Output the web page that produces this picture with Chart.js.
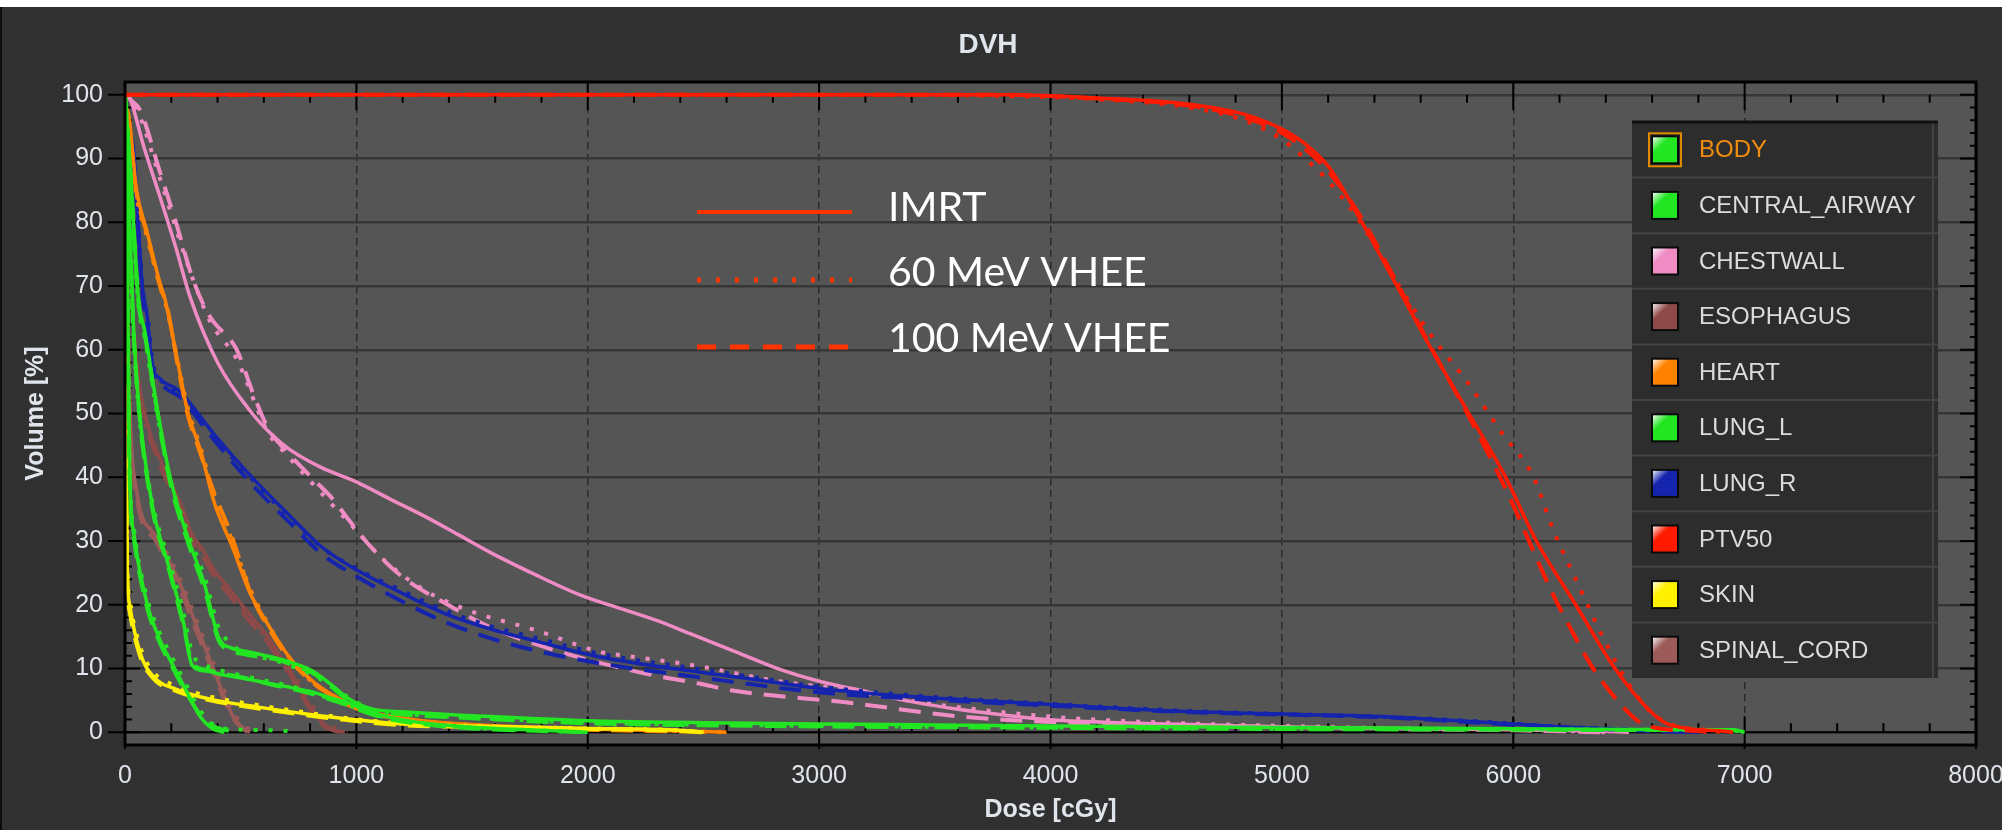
<!DOCTYPE html>
<html>
<head>
<meta charset="utf-8">
<title>DVH</title>
<script src="https://cdn.jsdelivr.net/npm/chart.js@4.4.0/dist/chart.umd.min.js"></script>
<style>
  html, body { margin: 0; padding: 0; background: #fff; }
  canvas { display: block; }
</style>
</head>
<body>
<canvas id="dvhChart" width="2002" height="830"></canvas>
<script>
// Estruturas (legenda) e técnicas
const structures = ['BODY', 'CENTRAL_AIRWAY', 'CHESTWALL', 'ESOPHAGUS', 'HEART', 'LUNG_L', 'LUNG_R', 'PTV50', 'SKIN', 'SPINAL_CORD'];
const methods = ['IMRT', '60 MeV VHEE', '100 MeV VHEE'];
const xTicks = [0, 1000, 2000, 3000, 4000, 5000, 6000, 7000, 8000];
const yTicks = [0, 10, 20, 30, 40, 50, 60, 70, 80, 90, 100];

// Curvas DVH: [dose cGy, volume %]
const ptv50_imrt = [[0,100],[1000,100],[2000,100],[3000,100],[3800,100],[4200,99.5],[4600,98.5],[4850,96.8],[5000,94.6],[5100,92.3],[5200,88.8],[5330,81],[5490,70.5],[5640,60.5],[5800,50.5],[5960,40.5],[6100,30],[6270,20],[6430,10.5],[6560,4.5],[6650,1.6],[6750,0.6],[6900,0.2],[6950,0]];
const ptv50_60 = [[0,100],[1000,100],[2000,100],[3000,100],[3800,99.8],[4200,99.3],[4600,98],[4850,95.8],[5000,93],[5100,90],[5200,86.5],[5330,80.5],[5490,71],[5650,62],[5800,55],[5950,47],[6088,40],[6170,32],[6283,23],[6400,14],[6500,7.5],[6600,3],[6700,1],[6850,0.3],[6900,0]];
const ptv50_100 = [[0,100],[1000,100],[2000,100],[3000,100],[3800,100],[4200,99.4],[4600,98.3],[4850,96.3],[5000,94],[5100,91.5],[5200,88],[5330,81.5],[5490,71],[5650,60],[5816,49],[5989,36.5],[6080,29],[6167,22],[6243,16.6],[6340,10.3],[6474,4],[6550,1.5],[6650,0.5],[6800,0.2],[6850,0]];

const chestwall_imrt = [[0,100],[20,99.5],[80,92],[151,84],[220,76],[281,68.3],[400,58],[541,50.4],[640,46.5],[714,44.3],[850,41.5],[1004,39.2],[1150,36.5],[1294,33.9],[1440,31],[1584,28.1],[1780,24.6],[1969,21.5],[2150,19.3],[2300,17.5],[2440,15.5],[2640,12.6],[2827,9.9],[3000,8],[3213,6.3],[3400,4.8],[3600,3.6],[3800,2.7],[3983,2],[4300,1.5],[4562,1.25],[5081,0.8],[5500,0.6],[6000,0.4],[6300,0.2],[6500,0]];
const chestwall_60 = [[0,100],[25,99],[60,97],[150,87],[220,79],[294,71],[367,64.5],[483,58.5],[618,47],[700,43.5],[811,39],[965,33],[1120,27],[1294,22.3],[1486,19.1],[1776,16],[2054,12.6],[2162,12],[2440,10.6],[2827,8],[3114,6.7],[3400,4.9],[3983,2.5],[4500,1.5],[5000,1],[5500,0.6],[6000,0.4],[6400,0]];
const chestwall_100 = [[0,100],[30,99],[65,97.6],[150,88],[220,80],[294,71],[367,65.2],[483,60],[550,53.5],[618,47.7],[700,44],[811,39.8],[900,36.5],[965,33.4],[1062,29.1],[1198,24.4],[1390,20.1],[1584,16.4],[1872,12.7],[2249,9.2],[2486,7.6],[2633,6.5],[3114,4.7],[3600,2.5],[4000,1.6],[4500,1.1],[5000,0.8],[5500,0.5],[6000,0.3],[6400,0]];

const lungR_imrt = [[0,97],[15,94],[35,92],[73,70.5],[96,65.2],[115,58],[150,55.5],[232,53.6],[386,46.7],[541,40.3],[714,33.9],[849,29.1],[1004,25.4],[1198,21.8],[1390,18.5],[1580,16.2],[1776,14.3],[2054,11.8],[2486,9.4],[2633,8.7],[3018,6.8],[3400,5.6],[3983,4.4],[4562,3.3],[5081,2.8],[5470,2.4],[5855,1.6],[6243,0.8],[6600,0.3],[6800,0]];
const lungR_60 = [[0,97],[20,93],[40,89],[75,70],[100,64.5],[120,58],[160,55],[240,53],[386,46.3],[541,40],[714,33.5],[849,29],[1004,25.6],[1198,22.2],[1390,19],[1584,16.6],[1776,14.8],[2054,12.3],[2486,9.9],[3018,7.1],[3400,5.8],[3983,4.5],[4562,3.4],[5081,2.8],[5470,2.4],[5855,1.7],[6243,0.8],[6600,0.3],[6800,0]];
const lungR_100 = [[0,96],[20,92],[40,88],[75,69],[100,63],[120,57],[160,54.5],[240,52.5],[386,45.8],[541,39.2],[714,32.8],[849,28],[1004,24.4],[1198,20.5],[1390,17.2],[1584,14.7],[1776,12.8],[2054,10.8],[2486,8.6],[3018,6.2],[3400,5.3],[3983,4.2],[4562,3.2],[5081,2.7],[5470,2.3],[5855,1.5],[6243,0.7],[6600,0.2],[6750,0]];

const heart_imrt = [[0,98],[14,97.2],[50,85],[93,78.8],[151,70.5],[173,67.9],[232,57.3],[270,50.4],[328,44],[386,36],[464,29.1],[541,21.8],[618,16.9],[714,11.6],[811,8],[900,5.8],[965,4.5],[1042,3.4],[1200,2.2],[1500,1.2],[2000,0.5],[2400,0.2],[2600,0]];
const heart_60 = [[0,97],[14,96],[50,84],[93,78],[151,70],[180,66.5],[232,57.5],[270,51],[328,44.5],[386,37],[464,30],[541,22.5],[618,17],[714,11.5],[811,7.8],[900,5.6],[965,4.4],[1042,3.3],[1200,2.1],[1500,1.1],[2000,0.5],[2400,0.2],[2600,0]];
const heart_100 = [[0,97.5],[14,96.5],[50,84.5],[93,78.5],[151,70],[180,67],[232,56.8],[270,50],[328,43.5],[386,37.5],[464,30.5],[541,22],[618,16.5],[714,11.3],[811,7.8],[900,5.6],[965,4.3],[1042,3.2],[1200,2],[1500,1],[2000,0.4],[2400,0.1],[2500,0]];

const body_imrt = [[0,100],[20,90],[58,68],[85,63],[134,52],[193,40.3],[270,30.7],[347,22.8],[404,14.9],[460,13.2],[521,12.7],[656,11.6],[730,10.8],[811,9.6],[890,7.5],[965,5.3],[1062,3.7],[1200,3.2],[1500,2.6],[2000,1.8],[2500,1.5],[3000,1.3],[3500,1.15],[4000,1],[4500,0.85],[5000,0.75],[5500,0.65],[6000,0.55],[6500,0.45],[6950,0.4],[7000,0]];
const body_60 = [[0,100],[20,89],[58,67],[85,62],[134,51],[193,40],[270,31.5],[347,24],[404,16.5],[460,13.8],[521,12.4],[656,11.2],[730,10.2],[811,9],[890,7.3],[965,5.5],[1062,3.6],[1200,2.9],[1500,2.3],[2000,1.5],[2500,1.2],[3000,1],[3500,0.85],[4000,0.75],[4500,0.65],[5000,0.55],[5500,0.5],[6000,0.45],[6500,0.4],[6950,0.3],[7000,0]];
const body_100 = [[0,100],[20,90],[58,67.5],[85,62.5],[134,51.5],[193,39.5],[270,30],[347,22],[404,14.5],[460,12.8],[521,12.2],[656,11.4],[730,10.5],[811,9.3],[890,7.2],[965,5],[1062,3.4],[1200,2.8],[1500,2.2],[2000,1.4],[2500,1.1],[3000,0.9],[3500,0.8],[4000,0.7],[4500,0.6],[5000,0.5],[5500,0.45],[6000,0.4],[6500,0.35],[6950,0.3],[7000,0]];

const airway_imrt = [[0,100],[15,85],[35,65],[58,52],[116,36],[194,25.4],[251,17.5],[290,10.5],[350,9.6],[424,9],[520,8.4],[618,7.7],[720,7],[811,6.3],[890,5.4],[965,4.6],[1050,3.3],[1150,2.3],[1300,1.4],[1500,0.8],[1800,0.3],[2000,0]];
const airway_60 = [[0,100],[15,84],[35,64],[58,51],[116,36.5],[194,26.5],[251,19],[290,12.5],[350,10.5],[424,9.6],[520,8.8],[618,8],[720,7.2],[811,6.2],[890,5.2],[965,4.3],[1050,3.1],[1150,2.1],[1300,1.3],[1500,0.7],[1800,0.25],[2000,0]];
const airway_100 = [[0,100],[15,85],[35,64.5],[58,51.5],[116,35.5],[194,25],[251,17],[290,11],[350,9.8],[424,9.2],[520,8.5],[618,7.6],[720,6.8],[811,6],[890,5.1],[965,4.2],[1050,3],[1150,2],[1300,1.2],[1500,0.6],[1800,0.2],[2000,0]];

const lungL_imrt = [[0,100],[8,80],[20,41],[40,30.7],[96,20.1],[151,14.5],[200,11],[268,6.3],[324,2.5],[381,0.5],[430,0]];
const lungL_60 = [[0,100],[8,79],[20,42],[40,31.5],[96,21],[151,15.5],[200,12],[268,7.2],[324,3.5],[381,1.2],[450,0.5],[700,0.2],[720,0]];
const lungL_100 = [[0,100],[8,80],[20,40],[40,30],[96,19.5],[151,14],[200,10.5],[268,6],[324,2.8],[381,1],[440,0.3],[500,0]];

const esophagus_imrt = [[0,100],[10,88],[25,72],[50,58],[100,48],[150,43],[200,39],[250,35],[290,31],[330,29],[386,25.4],[440,23],[503,20.1],[560,17.5],[618,14.9],[670,12],[714,9.6],[760,6.5],[800,4],[849,1.6],[900,0.4],[950,0]];
const esophagus_60 = [[0,100],[10,87],[25,71],[50,57],[100,47],[150,42.5],[200,38.5],[250,34],[290,30.5],[330,28.5],[386,25],[440,22.5],[503,19.5],[560,17],[618,14.5],[670,12],[714,10],[760,7.2],[800,4.8],[849,2.2],[900,0.8],[960,0]];
const esophagus_100 = [[0,100],[10,88],[25,71.5],[50,57.5],[100,47.5],[150,42],[200,38],[250,34.5],[290,30],[330,28],[386,24.5],[440,22],[503,19],[560,16.5],[618,14],[670,11.2],[714,9],[760,6],[800,3.6],[849,1.3],[900,0.3],[940,0]];

const cord_imrt = [[0,100],[8,75],[20,52],[50,38],[134,30.7],[232,23.8],[307,16.9],[386,9.6],[430,5.5],[464,2.7],[500,1],[540,0]];
const cord_60 = [[0,100],[8,74],[20,51],[50,37.5],[134,31],[232,24.5],[307,17.8],[386,10.5],[430,6.5],[464,3.5],[500,1.5],[560,0]];
const cord_100 = [[0,100],[8,75],[20,51.5],[50,37],[134,30],[232,23],[307,16],[386,9],[430,5],[464,2.4],[500,0.8],[530,0]];

const skin_imrt = [[0,100],[3,70],[6,40],[10,25],[20,20],[65,12.5],[121,8.8],[225,6.7],[368,5.2],[584,3.9],[800,2.8],[986,2],[1200,1.3],[1600,0.9],[2000,0.6],[2400,0.3],[2500,0]];
const skin_60 = [[0,100],[3,68],[6,38],[10,26],[20,21],[65,13.5],[121,9.5],[225,7.2],[368,5.6],[584,4.2],[800,3],[986,2.1],[1200,1.4],[1600,0.9],[2000,0.6],[2400,0.3],[2500,0]];
const skin_100 = [[0,100],[3,69],[6,39],[10,24],[20,19],[65,12],[121,8.5],[225,6.4],[368,5],[584,3.7],[800,2.6],[986,1.8],[1200,1.1],[1600,0.8],[2000,0.5],[2400,0.2],[2500,0]];

// ordem de desenho: o primeiro fica por cima
const curves = [
    ['PTV50', ptv50_imrt, ptv50_60, ptv50_100],
    ['LUNG_L', lungL_imrt, lungL_60, lungL_100],
    ['CENTRAL_AIRWAY', airway_imrt, airway_60, airway_100],
    ['BODY', body_imrt, body_60, body_100],
    ['SKIN', skin_imrt, skin_60, skin_100],
    ['HEART', heart_imrt, heart_60, heart_100],
    ['ESOPHAGUS', esophagus_imrt, esophagus_60, esophagus_100],
    ['SPINAL_CORD', cord_imrt, cord_60, cord_100],
    ['LUNG_R', lungR_imrt, lungR_60, lungR_100],
    ['CHESTWALL', chestwall_imrt, chestwall_60, chestwall_100]
];

// Estilos
const palette = {
    BODY: '#22e622', CENTRAL_AIRWAY: '#22e622', CHESTWALL: '#f08cc4', ESOPHAGUS: '#8e4a48',
    HEART: '#ff8200', LUNG_L: '#22e622', LUNG_R: '#1424ac', PTV50: '#ff1a00', SKIN: '#fff000',
    SPINAL_CORD: '#9c5a58'
};
const dashes = [[], [4, 11], [22, 12]];
const textColor = '#e0e5ec';
const uiFont = "'Liberation Sans', Arial, sans-serif";

const datasets = [];
curves.forEach(([name, ...series]) => {
    series.forEach((pts, m) => {
        datasets.push({
            label: name + ' ' + methods[m],
            data: pts.map(([x, y]) => ({ x, y })),
            borderColor: palette[name],
            borderWidth: m === 0 ? 3.5 : 4,
            borderDash: dashes[m],
            pointRadius: 0,
            fill: false,
            cubicInterpolationMode: 'monotone'
        });
    });
});

function checker(ctx, a, b) {
    const c = document.createElement('canvas');
    c.width = c.height = 2;
    const g = c.getContext('2d');
    g.fillStyle = a; g.fillRect(0, 0, 2, 2);
    g.fillStyle = b; g.fillRect(0, 0, 1, 1); g.fillRect(1, 1, 1, 1);
    return ctx.createPattern(c, 'repeat');
}

function line(ctx, x1, y1, x2, y2) {
    ctx.beginPath(); ctx.moveTo(x1, y1); ctx.lineTo(x2, y2); ctx.stroke();
}

// fundo, ticks, moldura, legenda e chave das técnicas
const dvhDecor = {
    id: 'dvhDecor',
    beforeDraw(chart) {
        const { ctx, chartArea: a, width, height } = chart;
        ctx.save();
        ctx.fillStyle = checker(ctx, '#2e2e2e', '#333333');
        ctx.fillRect(0, 0, width, height);
        ctx.fillStyle = '#ffffff';
        ctx.fillRect(0, 0, width, 7);
        ctx.fillStyle = '#0c0c0c';
        ctx.fillRect(0, 7, 2, height - 7);
        ctx.fillStyle = checker(ctx, '#525252', '#585858');
        ctx.fillRect(a.left, a.top, a.right - a.left, a.bottom - a.top);
        ctx.restore();
    },
    beforeDatasetsDraw(chart) {
        const { ctx, chartArea: a, scales: { x, y } } = chart;
        const y0 = y.getPixelForValue(0);
        const y100 = y.getPixelForValue(100);
        ctx.save();
        ctx.strokeStyle = '#000';
        ctx.lineWidth = 2;
        line(ctx, a.left, y0, a.right, y0);
        for (let v = 0; v <= 8000; v += 200) {
            const px = x.getPixelForValue(v);
            if (v % 1000 === 0) {
                line(ctx, px, y0 - 16, px, a.bottom + 4);
                line(ctx, px, a.top, px, a.top + 28);
            } else {
                line(ctx, px, y0 - 9, px, y0);
                line(ctx, px, y100, px, y100 + 8);
            }
        }
        for (let v = 0; v <= 100; v += 2) {
            const py = y.getPixelForValue(v);
            if (v % 10 === 0) {
                line(ctx, a.left - 17, py, a.left + 15, py);
                line(ctx, a.right - 16, py, a.right, py);
            } else {
                line(ctx, a.left, py, a.left + 7, py);
                line(ctx, a.right - 6, py, a.right, py);
            }
        }
        ctx.restore();
    },
    afterDatasetsDraw(chart) {
        const { ctx, chartArea: a } = chart;
        ctx.save();
        // moldura
        ctx.strokeStyle = '#000';
        ctx.lineWidth = 3;
        ctx.strokeRect(a.left, a.top, a.right - a.left, a.bottom - a.top);

        // chave IMRT / VHEE
        const keyRows = [212, 280, 347];
        const textRows = [208, 273, 339];
        ctx.strokeStyle = '#ff3300';
        methods.forEach((m, i) => {
            ctx.lineWidth = i === 0 ? 4 : 5;
            ctx.setLineDash(i === 0 ? [] : (i === 1 ? [4, 15] : [19, 14]));
            line(ctx, 697, keyRows[i], 852, keyRows[i]);
        });
        ctx.setLineDash([]);
        ctx.fillStyle = '#ffffff';
        ctx.font = "41px Lato, 'Open Sans', sans-serif";
        ctx.textAlign = 'left';
        ctx.textBaseline = 'middle';
        methods.forEach((m, i) => ctx.fillText(m, 888, textRows[i]));

        // legenda das estruturas
        const lx = 1632, ly = 122, lw = 306, rh = 55.6;
        ctx.fillStyle = '#2d2d2d';
        ctx.fillRect(lx, ly, lw, rh * structures.length);
        ctx.strokeStyle = '#434343';
        ctx.lineWidth = 2;
        for (let i = 1; i < structures.length; i++) line(ctx, lx, ly + rh * i, lx + lw, ly + rh * i);
        line(ctx, lx + lw - 5, ly, lx + lw - 5, ly + rh * structures.length);
        ctx.strokeStyle = '#111';
        ctx.lineWidth = 3;
        line(ctx, lx, ly, lx + lw, ly);
        ctx.font = '24px ' + uiFont;
        ctx.textBaseline = 'middle';
        structures.forEach((s, i) => {
            const cy = ly + rh * i + rh / 2;
            const sx = 1652, sy = cy - 13.5;
            const grad = ctx.createLinearGradient(sx, sy, sx + 26, sy + 27);
            grad.addColorStop(0, '#ffffff');
            grad.addColorStop(0.35, palette[s]);
            grad.addColorStop(1, palette[s]);
            ctx.fillStyle = grad;
            ctx.fillRect(sx, sy, 26, 27);
            ctx.strokeStyle = '#0a0a0a';
            ctx.lineWidth = 2;
            ctx.strokeRect(sx, sy, 26, 27);
            if (s === 'BODY') {
                ctx.strokeStyle = '#e08a00';
                ctx.strokeRect(sx - 3, sy - 3, 32, 33);
            }
            ctx.fillStyle = s === 'BODY' ? '#f08c10' : '#dcdcdc';
            ctx.fillText(s, 1699, cy + 1);
        });
        ctx.restore();
    }
};

const ctx = document.getElementById('dvhChart').getContext('2d');
new Chart(ctx, {
    type: 'line',
    data: { datasets },
    options: {
        responsive: false,
        animation: false,
        events: [],
        layout: { padding: { left: 0, right: 26, top: 0, bottom: 0 } },
        plugins: {
            legend: { display: false },
            tooltip: { enabled: false },
            title: {
                display: true,
                text: 'DVH',
                color: textColor,
                font: { family: uiFont, size: 28, weight: 'bold' },
                padding: { top: 28, bottom: 20.4 }
            }
        },
        scales: {
            x: {
                type: 'linear',
                min: 0,
                max: 8000,
                afterBuildTicks: s => { s.ticks = xTicks.map(v => ({ value: v })); },
                afterFit: s => { s.height = 85; s.paddingLeft = 0; s.paddingRight = 0; },
                grid: { color: '#2a2a2a', lineWidth: 1.5, drawTicks: false },
                border: { display: false, dash: [7, 5] },
                ticks: { color: textColor, font: { family: uiFont, size: 25 }, padding: 16, maxRotation: 0, autoSkip: false, callback: v => String(v) },
                title: {
                    display: true,
                    text: 'Dose [cGy]',
                    color: textColor,
                    font: { family: uiFont, size: 25, weight: 'bold' },
                    padding: { top: 0, bottom: 5 }
                }
            },
            y: {
                type: 'linear',
                min: -2,
                max: 102,
                afterBuildTicks: s => { s.ticks = yTicks.map(v => ({ value: v })); },
                afterFit: s => { s.width = 125; s.paddingTop = 0; s.paddingBottom = 0; },
                grid: { color: '#363636', lineWidth: 2.5, drawTicks: false },
                border: { display: false },
                ticks: { color: textColor, font: { family: uiFont, size: 25 }, padding: 22, autoSkip: false, callback: v => String(v) },
                title: {
                    display: true,
                    text: 'Volume [%]',
                    color: textColor,
                    font: { family: uiFont, size: 25, weight: 'bold' },
                    padding: { top: 21, bottom: 0 }
                }
            }
        }
    },
    plugins: [dvhDecor]
});
</script>
</body>
</html>
